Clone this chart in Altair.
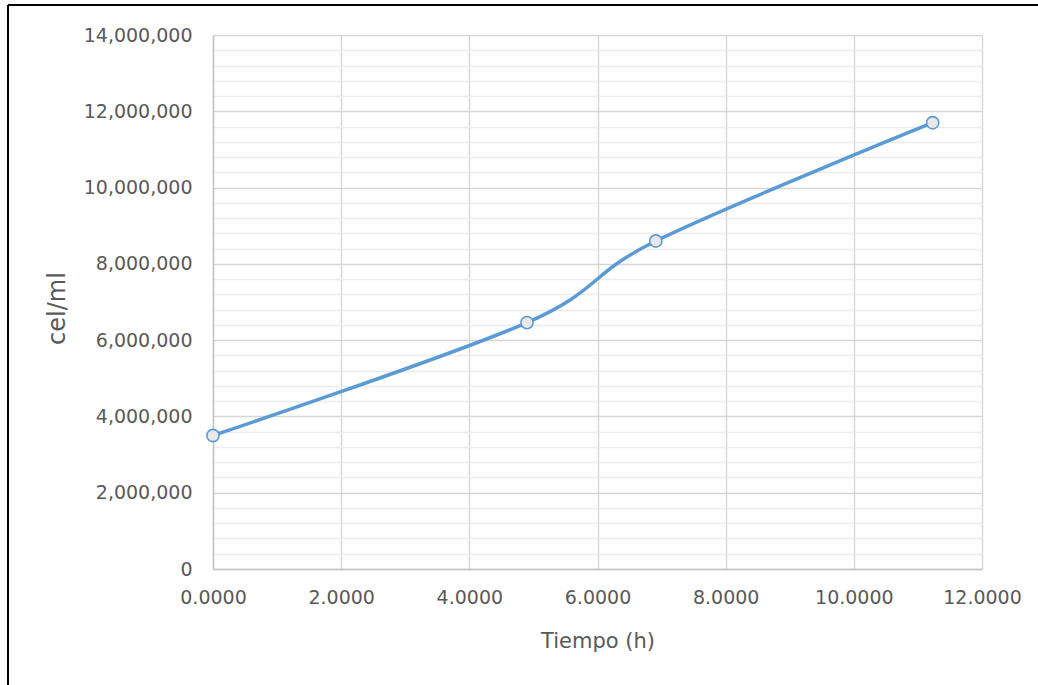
import altair as alt
import pandas as pd

# Data
tiempo_h = [0.0, 4.90, 6.91, 11.23]
cel_ml = [3500000, 6460000, 8600000, 11700000]

x_ticks = [0, 2, 4, 6, 8, 10, 12]
y_ticks = list(range(0, 14_000_001, 400_000))

df = pd.DataFrame({"t": tiempo_h, "c": cel_ml})

FONT = "DejaVu Sans"
TXT = "#595959"
BLUE = "#5b9bd5"

x_enc = alt.X(
    "t:Q",
    scale=alt.Scale(domain=[0, 12], nice=False),
    axis=alt.Axis(
        title="Tiempo (h)",
        values=x_ticks,
        tickCount=20,
        format=".4f",
        labelFont=FONT, labelFontSize=19, labelColor=TXT,
        labelPadding=19, labelFlush=False, labelOverlap=False,
        ticks=False, tickSize=0,
        domainColor="#c4c4c4", domainWidth=1.5,
        gridColor="#d6d6d6", gridWidth=1.4,
        titleFont=FONT, titleFontSize=21, titleColor=TXT, titleFontWeight="normal",
        titleBaseline="alphabetic", titleY=78,
    ),
)
y_enc = alt.Y(
    "c:Q",
    scale=alt.Scale(domain=[0, 14_000_000], nice=False),
    axis=alt.Axis(
        title="cel/ml",
        values=y_ticks,
        tickCount=100,
        labelExpr="datum.value % 2000000 === 0 ? format(datum.value, ',') : ''",
        labelFont=FONT, labelFontSize=19, labelColor=TXT,
        labelPadding=21, labelFlush=False, labelOverlap=False,
        ticks=False, tickSize=0,
        domainColor="#c4c4c4", domainWidth=1.5,
        gridColor=alt.condition("datum.value % 2000000 === 0", alt.value("#d6d6d6"), alt.value("#ececec")),
        gridWidth=1.3,
        titleFont=FONT, titleFontSize=24, titleColor=TXT, titleFontWeight="normal",
        titleBaseline="alphabetic", titleX=-149, titleY=273,
    ),
)

line = alt.Chart(df).mark_line(color=BLUE, strokeWidth=3.5, interpolate="cardinal").encode(x=x_enc, y=y_enc)
pts = alt.Chart(df).mark_point(
    filled=False, shape="circle", size=150, fill="#e8e8e8", fillOpacity=1,
    stroke=BLUE, strokeWidth=1.6, opacity=1
).encode(x="t:Q", y="c:Q")

frame_data = alt.Data(values=[{"k": 1}])
left_border = alt.Chart(frame_data).mark_rule(color="black", strokeWidth=2).encode(
    x=alt.value(-205), y=alt.value(-30), y2=alt.value(650)
)
top_border = alt.Chart(frame_data).mark_rule(color="black", strokeWidth=2).encode(
    x=alt.value(-205), x2=alt.value(825), y=alt.value(-30)
)

chart = alt.layer(line, pts, left_border, top_border).properties(
    width=769,
    height=534,
    autosize=alt.AutoSizeParams(type="none"),
    padding={"left": 213, "top": 35, "right": 56, "bottom": 116},
    background="white",
).configure_view(strokeWidth=0)

chart.save("out.html", embed_options={"renderer": "svg", "actions": False})
